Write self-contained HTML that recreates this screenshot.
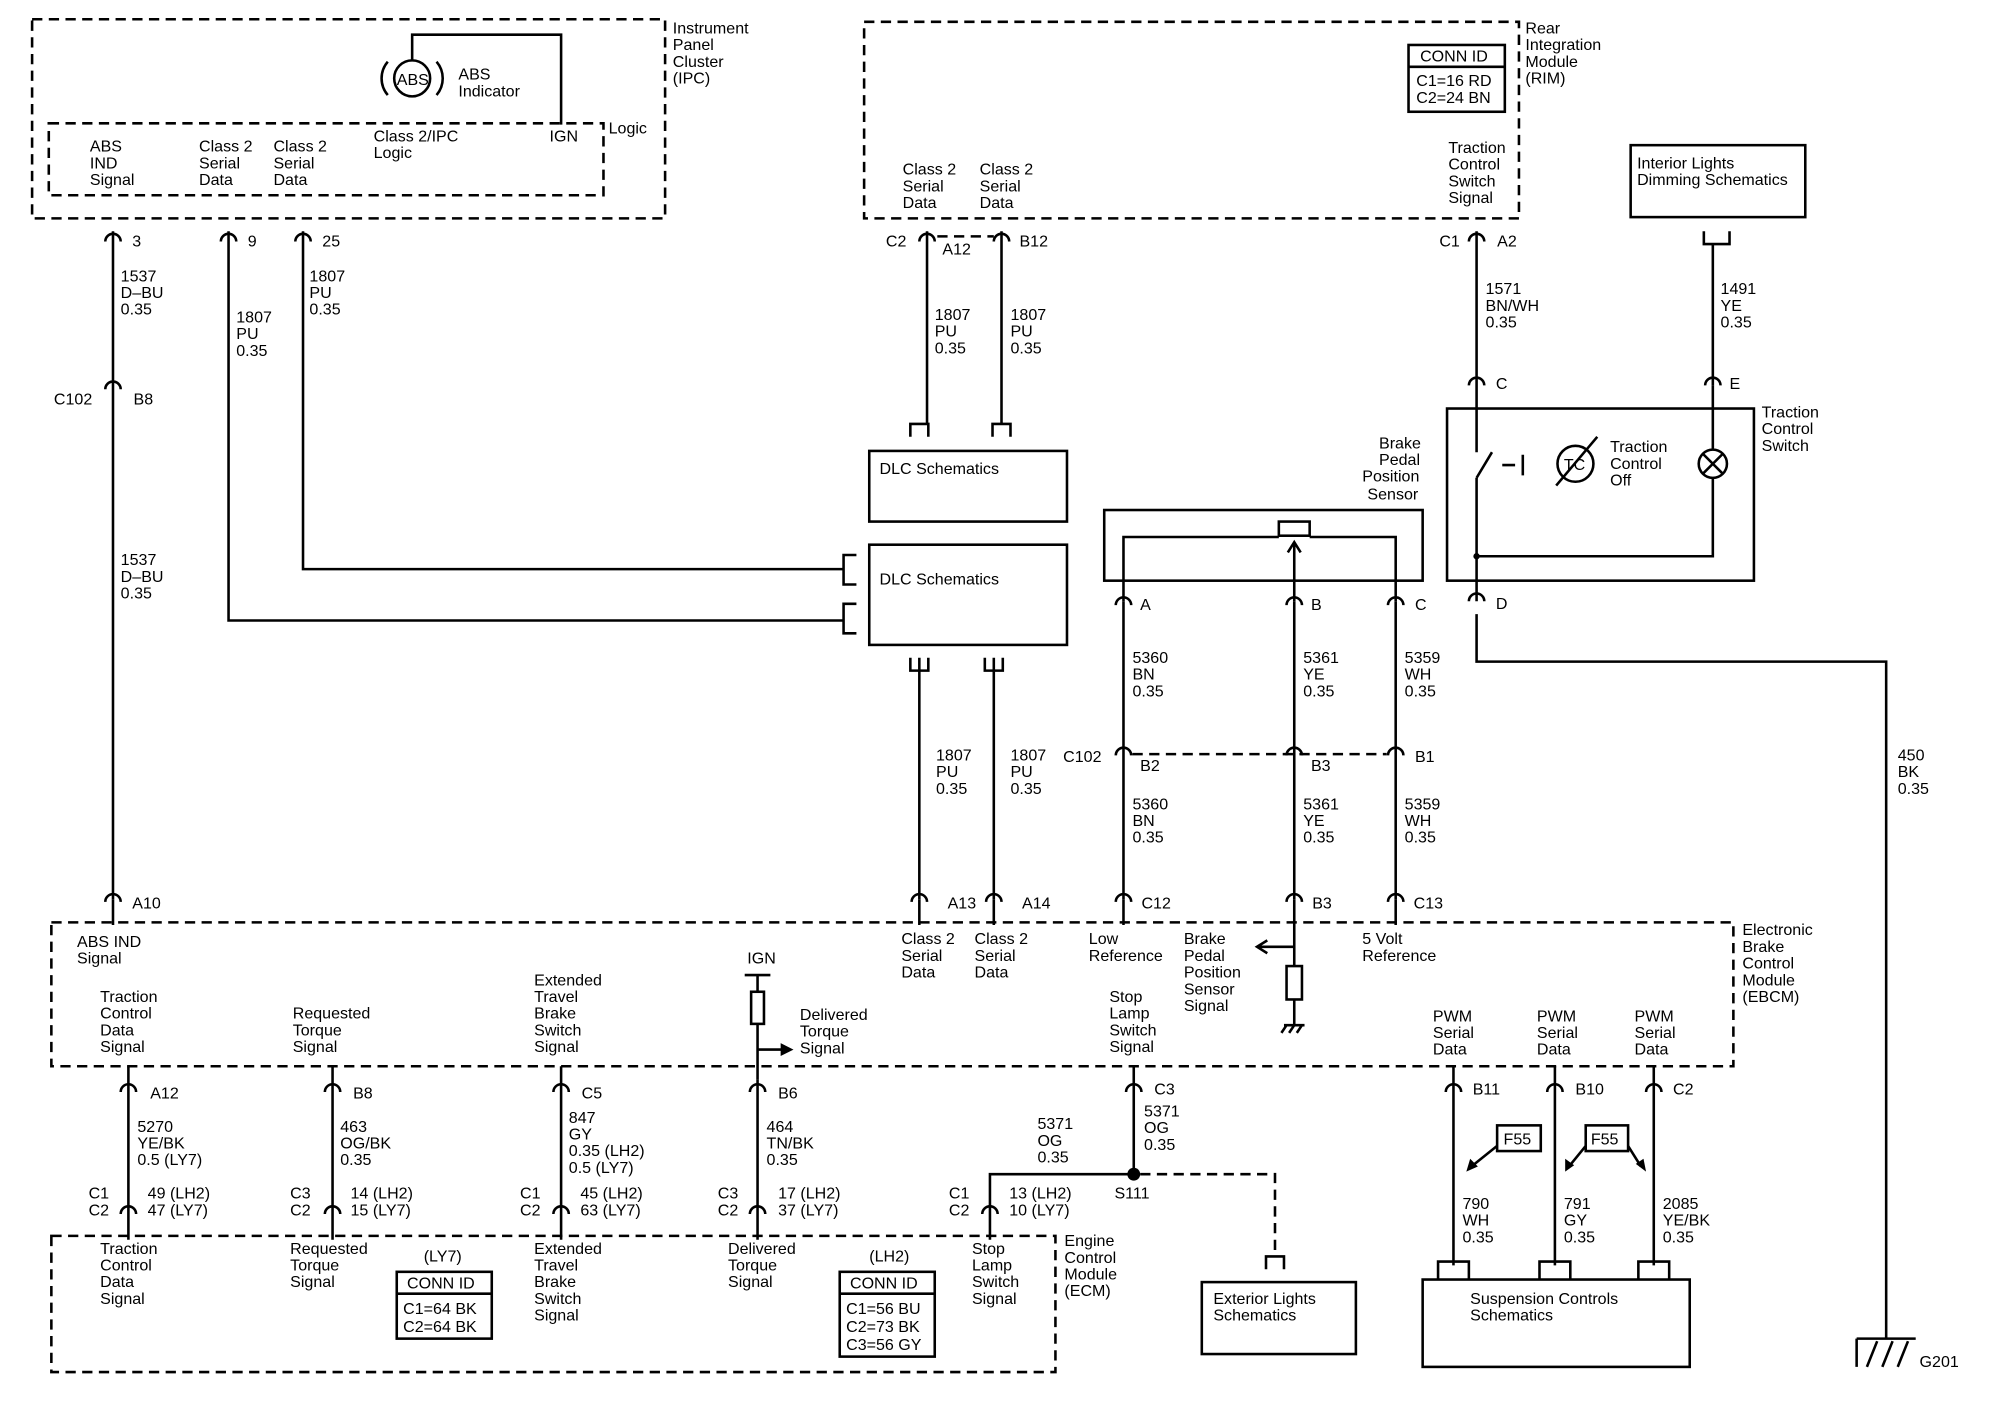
<!DOCTYPE html>
<html><head><meta charset="utf-8"><style>
html,body{margin:0;padding:0;background:#fff}
svg{display:block}
text{font-family:"Liberation Sans",sans-serif;font-size:12.5px;fill:#000}
.w{stroke:#000;stroke-width:2;fill:none}
.d{stroke:#000;stroke-width:2;fill:none;stroke-dasharray:8 5}
</style></head><body>
<svg width="2012" height="1408" viewBox="0 0 1567 1096" preserveAspectRatio="none" xmlns="http://www.w3.org/2000/svg">
<defs>
<symbol id="c" overflow="visible"><path d="M-6 5 A6 6 0 0 1 6 5" stroke="#000" stroke-width="2" fill="none"/></symbol>
<symbol id="br" overflow="visible"><path d="M-7 10 V0 H7 V10" stroke="#000" stroke-width="2" fill="none"/></symbol>
</defs>

<!-- IPC -->
<rect class="d" x="25" y="15" width="493" height="155"/>
<rect class="d" x="38" y="96" width="432" height="56"/>
<circle class="w" cx="321" cy="61" r="14"/>
<path class="w" d="M302 48 A20 20 0 0 0 302 74 M340 48 A20 20 0 0 1 340 74"/>
<text x="309" y="66" font-size="11">ABS</text>
<path class="w" d="M321 47 V27 H437 V97"/>
<text x="357" y="62">ABS</text><text x="357" y="75">Indicator</text>
<text x="524" y="26">Instrument</text><text x="524" y="39">Panel</text><text x="524" y="52">Cluster</text><text x="524" y="65">(IPC)</text>
<text x="474" y="104">Logic</text>
<text x="70" y="118">ABS</text><text x="70" y="131">IND</text><text x="70" y="144">Signal</text>
<text x="155" y="118">Class 2</text><text x="155" y="131">Serial</text><text x="155" y="144">Data</text>
<text x="213" y="118">Class 2</text><text x="213" y="131">Serial</text><text x="213" y="144">Data</text>
<text x="291" y="110">Class 2/IPC</text><text x="291" y="123">Logic</text>
<text x="428" y="110">IGN</text>

<!-- IPC pins and wires -->
<path class="w" d="M88 180 V700 M178 180 V483 H657 M236 180 V443 H657"/>
<use href="#c" x="88" y="183"/><use href="#c" x="178" y="183"/><use href="#c" x="236" y="183"/>
<text x="103" y="192">3</text><text x="193" y="192">9</text><text x="251" y="192">25</text>
<text x="94" y="219">1537</text><text x="94" y="232">D–BU</text><text x="94" y="245">0.35</text>
<text x="241" y="219">1807</text><text x="241" y="232">PU</text><text x="241" y="245">0.35</text>
<text x="184" y="251">1807</text><text x="184" y="264">PU</text><text x="184" y="277">0.35</text>
<use href="#c" x="88" y="298"/>
<text x="42" y="315">C102</text><text x="104" y="315">B8</text>
<text x="94" y="440">1537</text><text x="94" y="453">D–BU</text><text x="94" y="466">0.35</text>

<!-- DLC -->
<rect class="w" x="677" y="351" width="154" height="55"/>
<rect class="w" x="677" y="424" width="154" height="78"/>
<text x="685" y="369">DLC Schematics</text><text x="685" y="455">DLC Schematics</text>
<path class="w" d="M667 432 H657 V455 H667 M667 470 H657 V493 H667"/>
<use href="#br" x="716" y="330"/><use href="#br" x="780" y="330"/>
<path class="w" d="M709 512 V522 H723 V512 M767 512 V522 H781 V512"/>

<!-- RIM -->
<rect class="d" x="673" y="17" width="510" height="153"/>
<rect class="w" x="1097" y="35" width="75" height="52"/>
<line class="w" x1="1097" y1="52" x2="1172" y2="52"/>
<text x="1106" y="48">CONN ID</text><text x="1103" y="67">C1=16 RD</text><text x="1103" y="80">C2=24 BN</text>
<text x="1188" y="26">Rear</text><text x="1188" y="39">Integration</text><text x="1188" y="52">Module</text><text x="1188" y="65">(RIM)</text>
<text x="703" y="136">Class 2</text><text x="703" y="149">Serial</text><text x="703" y="162">Data</text>
<text x="763" y="136">Class 2</text><text x="763" y="149">Serial</text><text x="763" y="162">Data</text>
<text x="1128" y="119">Traction</text><text x="1128" y="132">Control</text><text x="1128" y="145">Switch</text><text x="1128" y="158">Signal</text>
<path class="w" d="M722 180 V330 M780 180 V330"/>
<path class="d" d="M730 184 H774"/>
<use href="#c" x="722" y="183"/><use href="#c" x="780" y="183"/>
<text x="690" y="192">C2</text><text x="734" y="198">A12</text><text x="794" y="192">B12</text>
<text x="728" y="249">1807</text><text x="728" y="262">PU</text><text x="728" y="275">0.35</text>
<text x="787" y="249">1807</text><text x="787" y="262">PU</text><text x="787" y="275">0.35</text>

<!-- traction switch -->
<path class="w" d="M1150 180 V352 M1150 372 V468 M1150 478 V515 H1469 V1042"/>
<use href="#c" x="1150" y="183"/>
<text x="1121" y="192">C1</text><text x="1166" y="192">A2</text>
<text x="1157" y="229">1571</text><text x="1157" y="242">BN/WH</text><text x="1157" y="255">0.35</text>
<use href="#c" x="1150" y="295"/><text x="1165" y="303">C</text>
<rect class="w" x="1127" y="318" width="239" height="134"/>
<path class="w" d="M1150 372 L1162 352 M1170 362 H1180 M1186 354 V370"/>
<path class="w" d="M1150 433 H1334 V372 M1334 350 V300"/>
<circle class="w" cx="1334" cy="361" r="11"/>
<path class="w" d="M1326 353 L1342 369 M1342 353 L1326 369"/>
<circle cx="1150" cy="433" r="2.5"/>
<circle class="w" cx="1227" cy="361" r="14"/>
<text x="1218" y="366" font-size="11">TC</text>
<path class="w" d="M1212 378 L1244 340"/>
<text x="1254" y="352">Traction</text><text x="1254" y="365">Control</text><text x="1254" y="378">Off</text>
<text x="1372" y="325">Traction</text><text x="1372" y="338">Control</text><text x="1372" y="351">Switch</text>
<use href="#c" x="1150" y="463"/><text x="1165" y="474">D</text>
<use href="#c" x="1334" y="295"/><text x="1347" y="303">E</text>
<rect class="w" x="1270" y="113" width="136" height="56"/>
<text x="1275" y="131">Interior Lights</text><text x="1275" y="144">Dimming Schematics</text>
<path class="w" d="M1327 180 V190 H1347 V180 M1334 190 V300"/>
<text x="1340" y="229">1491</text><text x="1340" y="242">YE</text><text x="1340" y="255">0.35</text>
<text x="1478" y="592">450</text><text x="1478" y="605">BK</text><text x="1478" y="618">0.35</text>
<path class="w" d="M1446 1042 H1492 M1446 1042 V1064 M1454 1064 L1462 1044 M1466 1064 L1474 1044 M1478 1064 L1486 1044"/>
<text x="1495" y="1064">G201</text>

<!-- brake pedal sensor -->
<text x="1074" y="349">Brake</text><text x="1074" y="362">Pedal</text><text x="1061" y="375">Position</text><text x="1065" y="389">Sensor</text>
<rect class="w" x="860" y="397" width="248" height="55"/>
<path class="w" d="M875 468 V418 H996 M1020 418 H1087 V468"/>
<rect class="w" x="996" y="406" width="24" height="11"/>
<path class="w" d="M1008 468 V423 M1003 430 L1008 422 L1013 430"/>
<use href="#c" x="875" y="466"/><use href="#c" x="1008" y="466"/><use href="#c" x="1087" y="466"/>
<text x="888" y="475">A</text><text x="1021" y="475">B</text><text x="1102" y="475">C</text>
<path class="w" d="M875 468 V700 M1008 468 V700 M1087 468 V700"/>
<text x="882" y="516">5360</text><text x="882" y="529">BN</text><text x="882" y="542">0.35</text>
<text x="1015" y="516">5361</text><text x="1015" y="529">YE</text><text x="1015" y="542">0.35</text>
<text x="1094" y="516">5359</text><text x="1094" y="529">WH</text><text x="1094" y="542">0.35</text>
<path class="d" d="M882 587 H1080"/>
<use href="#c" x="875" y="583"/><use href="#c" x="1008" y="583"/><use href="#c" x="1087" y="583"/>
<text x="828" y="593">C102</text><text x="888" y="600">B2</text><text x="1021" y="600">B3</text><text x="1102" y="593">B1</text>
<text x="882" y="630">5360</text><text x="882" y="643">BN</text><text x="882" y="656">0.35</text>
<text x="1015" y="630">5361</text><text x="1015" y="643">YE</text><text x="1015" y="656">0.35</text>
<text x="1094" y="630">5359</text><text x="1094" y="643">WH</text><text x="1094" y="656">0.35</text>
<text x="729" y="592">1807</text><text x="729" y="605">PU</text><text x="729" y="618">0.35</text>
<text x="787" y="592">1807</text><text x="787" y="605">PU</text><text x="787" y="618">0.35</text>
<path class="w" d="M716 512 V700 M774 512 V700"/>

<!-- EBCM top pins -->
<use href="#c" x="88" y="697"/><text x="103" y="707">A10</text>
<use href="#c" x="716" y="697"/><text x="738" y="707">A13</text>
<use href="#c" x="774" y="697"/><text x="796" y="707">A14</text>
<use href="#c" x="875" y="697"/><text x="889" y="707">C12</text>
<use href="#c" x="1008" y="697"/><text x="1022" y="707">B3</text>
<use href="#c" x="1087" y="697"/><text x="1101" y="707">C13</text>
<path class="w" d="M88 700 V720 M716 700 V720 M774 700 V720 M875 700 V720 M1087 700 V720 M1008 700 V752 M1008 737 H980 M987 732 L979 737 L987 742 M1008 778 V798 M1000 798 H1016 M1002 798 L998 804 M1008 798 L1004 804 M1014 798 L1010 804"/>
<rect class="w" x="1002" y="752" width="12" height="26"/>

<!-- EBCM box -->
<rect class="d" x="40" y="718" width="1310" height="112"/>
<text x="1357" y="728">Electronic</text><text x="1357" y="741">Brake</text><text x="1357" y="754">Control</text><text x="1357" y="767">Module</text><text x="1357" y="780">(EBCM)</text>
<text x="60" y="737">ABS IND</text><text x="60" y="750">Signal</text>
<text x="702" y="735">Class 2</text><text x="702" y="748">Serial</text><text x="702" y="761">Data</text>
<text x="759" y="735">Class 2</text><text x="759" y="748">Serial</text><text x="759" y="761">Data</text>
<text x="848" y="735">Low</text><text x="848" y="748">Reference</text>
<text x="922" y="735">Brake</text><text x="922" y="748">Pedal</text><text x="922" y="761">Position</text><text x="922" y="774">Sensor</text><text x="922" y="787">Signal</text>
<text x="1061" y="735">5 Volt</text><text x="1061" y="748">Reference</text>
<text x="78" y="780">Traction</text><text x="78" y="793">Control</text><text x="78" y="806">Data</text><text x="78" y="819">Signal</text>
<text x="228" y="793">Requested</text><text x="228" y="806">Torque</text><text x="228" y="819">Signal</text>
<text x="416" y="767">Extended</text><text x="416" y="780">Travel</text><text x="416" y="793">Brake</text><text x="416" y="806">Switch</text><text x="416" y="819">Signal</text>
<text x="582" y="750">IGN</text>
<path class="w" d="M580 759 H600 M590 759 V772 M590 797 V840 M590 817 H610"/>
<rect class="w" x="585" y="772" width="10" height="25"/>
<path d="M608 812 L618 817 L608 822 Z"/>
<text x="623" y="794">Delivered</text><text x="623" y="807">Torque</text><text x="623" y="820">Signal</text>
<text x="864" y="780">Stop</text><text x="864" y="793">Lamp</text><text x="864" y="806">Switch</text><text x="864" y="819">Signal</text>
<text x="1116" y="795">PWM</text><text x="1116" y="808">Serial</text><text x="1116" y="821">Data</text>
<text x="1197" y="795">PWM</text><text x="1197" y="808">Serial</text><text x="1197" y="821">Data</text>
<text x="1273" y="795">PWM</text><text x="1273" y="808">Serial</text><text x="1273" y="821">Data</text>

<!-- bottom wires -->
<path class="w" d="M100 830 V965 M259 830 V965 M437 830 V965 M590 840 V965 M883 830 V914 H771 V965 M1132 830 V985 M1211 830 V985 M1288 830 V985"/>
<circle cx="883" cy="914" r="5"/>
<path class="d" d="M888 914 H993 V978"/>
<use href="#c" x="100" y="845"/><text x="117" y="855">A12</text>
<use href="#c" x="259" y="845"/><text x="275" y="855">B8</text>
<use href="#c" x="437" y="845"/><text x="453" y="855">C5</text>
<use href="#c" x="590" y="845"/><text x="606" y="855">B6</text>
<use href="#c" x="883" y="845"/><text x="899" y="852">C3</text>
<use href="#c" x="1132" y="845"/><text x="1147" y="852">B11</text>
<use href="#c" x="1211" y="845"/><text x="1227" y="852">B10</text>
<use href="#c" x="1288" y="845"/><text x="1303" y="852">C2</text>
<text x="107" y="881">5270</text><text x="107" y="894">YE/BK</text><text x="107" y="907">0.5 (LY7)</text>
<text x="265" y="881">463</text><text x="265" y="894">OG/BK</text><text x="265" y="907">0.35</text>
<text x="443" y="874">847</text><text x="443" y="887">GY</text><text x="443" y="900">0.35 (LH2)</text><text x="443" y="913">0.5 (LY7)</text>
<text x="597" y="881">464</text><text x="597" y="894">TN/BK</text><text x="597" y="907">0.35</text>
<text x="808" y="879">5371</text><text x="808" y="892">OG</text><text x="808" y="905">0.35</text>
<text x="891" y="869">5371</text><text x="891" y="882">OG</text><text x="891" y="895">0.35</text>
<text x="868" y="933">S111</text>
<use href="#c" x="100" y="940"/><use href="#c" x="259" y="940"/><use href="#c" x="437" y="940"/><use href="#c" x="590" y="940"/><use href="#c" x="771" y="940"/>
<text x="69" y="933">C1</text><text x="69" y="946">C2</text><text x="115" y="933">49 (LH2)</text><text x="115" y="946">47 (LY7)</text>
<text x="226" y="933">C3</text><text x="226" y="946">C2</text><text x="273" y="933">14 (LH2)</text><text x="273" y="946">15 (LY7)</text>
<text x="405" y="933">C1</text><text x="405" y="946">C2</text><text x="452" y="933">45 (LH2)</text><text x="452" y="946">63 (LY7)</text>
<text x="559" y="933">C3</text><text x="559" y="946">C2</text><text x="606" y="933">17 (LH2)</text><text x="606" y="946">37 (LY7)</text>
<text x="739" y="933">C1</text><text x="739" y="946">C2</text><text x="786" y="933">13 (LH2)</text><text x="786" y="946">10 (LY7)</text>

<!-- ECM -->
<rect class="d" x="40" y="962" width="782" height="106"/>
<text x="829" y="970">Engine</text><text x="829" y="983">Control</text><text x="829" y="996">Module</text><text x="829" y="1009">(ECM)</text>
<text x="78" y="976">Traction</text><text x="78" y="989">Control</text><text x="78" y="1002">Data</text><text x="78" y="1015">Signal</text>
<text x="226" y="976">Requested</text><text x="226" y="989">Torque</text><text x="226" y="1002">Signal</text>
<text x="416" y="976">Extended</text><text x="416" y="989">Travel</text><text x="416" y="1002">Brake</text><text x="416" y="1015">Switch</text><text x="416" y="1028">Signal</text>
<text x="567" y="976">Delivered</text><text x="567" y="989">Torque</text><text x="567" y="1002">Signal</text>
<text x="757" y="976">Stop</text><text x="757" y="989">Lamp</text><text x="757" y="1002">Switch</text><text x="757" y="1015">Signal</text>
<text x="330" y="982">(LY7)</text>
<rect class="w" x="309" y="990" width="74" height="52"/><line class="w" x1="309" y1="1007" x2="383" y2="1007"/>
<text x="317" y="1003">CONN ID</text><text x="314" y="1023">C1=64 BK</text><text x="314" y="1037">C2=64 BK</text>
<text x="677" y="982">(LH2)</text>
<rect class="w" x="654" y="990" width="74" height="66"/><line class="w" x1="654" y1="1007" x2="728" y2="1007"/>
<text x="662" y="1003">CONN ID</text><text x="659" y="1023">C1=56 BU</text><text x="659" y="1037">C2=73 BK</text><text x="659" y="1051">C3=56 GY</text>

<!-- Exterior lights / suspension -->
<path class="w" d="M986 988 V978 H1000 V988"/>
<rect class="w" x="936" y="998" width="120" height="56"/>
<text x="945" y="1015">Exterior Lights</text><text x="945" y="1028">Schematics</text>
<rect class="w" x="1108" y="996" width="208" height="68"/>
<text x="1145" y="1015">Suspension Controls</text><text x="1145" y="1028">Schematics</text>
<path class="w" d="M1120 996 V982 H1144 V996 M1199 996 V982 H1223 V996 M1276 996 V982 H1300 V996"/>
<rect class="w" x="1166" y="876" width="34" height="20"/><text x="1171" y="891">F55</text>
<rect class="w" x="1235" y="876" width="33" height="20"/><text x="1239" y="891">F55</text>
<path class="w" d="M1166 892 L1146 908 M1235 892 L1222 908 M1268 892 L1278 908"/>
<path d="M1142 912 L1145 902 L1151 908 Z M1219 912 L1219 902 L1226 907 Z M1282 912 L1274 906 L1280 902 Z"/>
<text x="1139" y="941">790</text><text x="1139" y="954">WH</text><text x="1139" y="967">0.35</text>
<text x="1218" y="941">791</text><text x="1218" y="954">GY</text><text x="1218" y="967">0.35</text>
<text x="1295" y="941">2085</text><text x="1295" y="954">YE/BK</text><text x="1295" y="967">0.35</text>
</svg>
</body></html>
